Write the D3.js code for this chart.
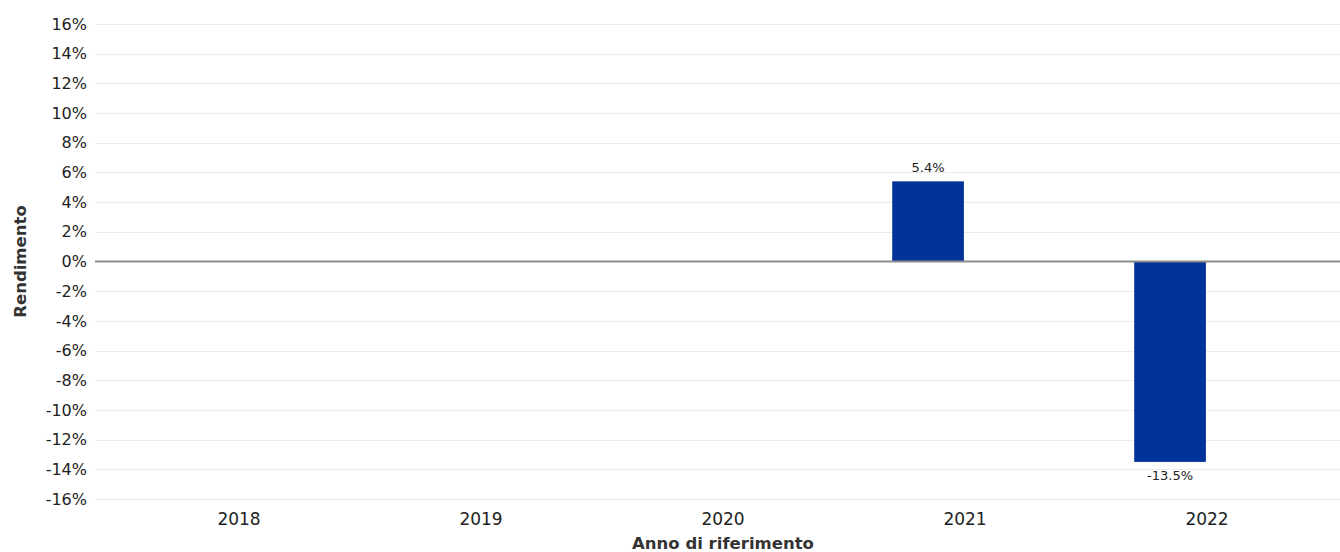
<!DOCTYPE html>
<html>
<head>
<meta charset="utf-8">
<script src="https://cdn.jsdelivr.net/npm/d3@7"></script>
<style>
  body { margin: 0; background: #fff; }
  svg { display: block; font-family: "DejaVu Sans", Verdana, sans-serif; }
</style>
</head>
<body>
<div id="chart"></div>
<script>
// anni di riferimento e rendimenti (%)
const years = ['2018', '2019', '2020', '2021', '2022'];
const seriesKeys = ['fondo', 'benchmark'];
const fondo = [null, null, null, 5.4, -13.5];
const yTicks = [-16, -14, -12, -10, -8, -6, -4, -2, 0, 2, 4, 6, 8, 10, 12, 14, 16];

const width = 1340, height = 552;
const plot = { left: 95, right: 1340, top: 24, bottom: 499 };

const svg = d3.select('#chart')
    .append('svg')
    .attr('width', width)
    .attr('height', height);

const y = d3.scaleLinear()
    .domain([-16, 16])
    .range([plot.bottom, plot.top]);

const x0 = d3.scaleBand()
    .domain(years)
    .range([118, 1328])
    .paddingInner(0.38)
    .paddingOuter(0.19);

const x1 = d3.scaleBand()
    .domain(seriesKeys)
    .range([0, x0.bandwidth()])
    .padding(0.03);

// grid
svg.append('g')
    .selectAll('line')
    .data(yTicks)
    .join('line')
    .attr('x1', plot.left)
    .attr('x2', plot.right)
    .attr('y1', d => Math.round(y(d)) + 0.5)
    .attr('y2', d => Math.round(y(d)) + 0.5)
    .attr('stroke', d => d === 0 ? 'none' : '#ebebeb')
    .attr('stroke-width', 1);

// y axis labels
const yAxis = d3.axisLeft(y)
    .tickValues(yTicks)
    .tickFormat(d => d + '%')
    .tickSize(0)
    .tickPadding(8);

svg.append('g')
    .attr('transform', `translate(${plot.left},0)`)
    .call(yAxis)
    .call(g => g.select('.domain').remove())
    .call(g => g.selectAll('text')
        .attr('font-size', 16)
        .attr('font-family', '"DejaVu Sans", Verdana, sans-serif')
        .attr('fill', '#222'));

// x axis labels
const xAxis = d3.axisBottom(x0).tickSize(0).tickPadding(14);

svg.append('g')
    .attr('transform', `translate(0,${plot.bottom})`)
    .call(xAxis)
    .call(g => g.select('.domain').remove())
    .call(g => g.selectAll('text')
        .attr('font-size', 17)
        .attr('font-family', '"DejaVu Sans", Verdana, sans-serif')
        .attr('fill', '#222'));

// bars
const rows = years.map((yr, i) => ({ year: yr, key: 'fondo', value: fondo[i] }))
    .filter(d => d.value !== null);

svg.append('g')
    .selectAll('rect')
    .data(rows)
    .join('rect')
    .attr('x', d => x0(d.year) + x1(d.key))
    .attr('width', x1.bandwidth())
    .attr('y', d => y(Math.max(0, d.value)))
    .attr('height', d => Math.abs(y(d.value) - y(0)))
    .attr('fill', '#003399');

// value labels
svg.append('g')
    .selectAll('text')
    .data(rows)
    .join('text')
    .attr('x', d => x0(d.year) + x1(d.key) + x1.bandwidth() / 2)
    .attr('y', d => d.value >= 0 ? y(d.value) - 9 : y(d.value) + 18)
    .attr('text-anchor', 'middle')
    .attr('font-size', 13)
    .attr('fill', '#222')
    .text(d => d.value.toFixed(1) + '%');

// zero line
svg.append('line')
    .attr('x1', plot.left)
    .attr('x2', plot.right)
    .attr('y1', y(0))
    .attr('y2', y(0))
    .attr('stroke', '#8c8c8c')
    .attr('stroke-width', 2);

// axis titles
svg.append('text')
    .attr('transform', `translate(26,${y(0)}) rotate(-90)`)
    .attr('text-anchor', 'middle')
    .attr('font-size', 16.5)
    .attr('font-weight', 'bold')
    .attr('fill', '#333')
    .text('Rendimento');

svg.append('text')
    .attr('x', 723)
    .attr('y', 549)
    .attr('text-anchor', 'middle')
    .attr('font-size', 16.5)
    .attr('font-weight', 'bold')
    .attr('fill', '#333')
    .text('Anno di riferimento');
</script>
</body>
</html>
